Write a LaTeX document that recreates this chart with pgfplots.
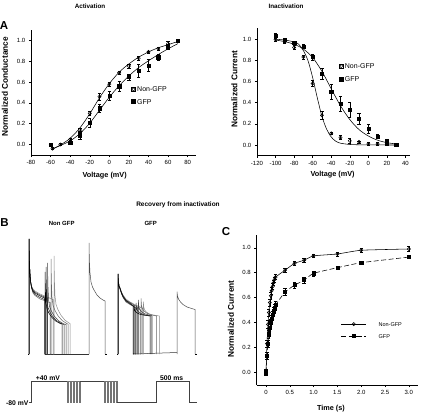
\documentclass[border=0pt]{standalone}
\usepackage{pgfplots}
\usepackage{pgfplotstable}
\pgfplotsset{compat=1.18}
\usepackage{fontspec}
\setmainfont{Liberation Sans}

\pgfplotstableread{
x y e
-58 -0.04 0.01
-50 0.0 0.01
-40 0.05 0.012
-30 0.14 0.02
-20 0.30 0.02
-10 0.46 0.03
0 0.58 0.02
10 0.69 0.015
20 0.755 0.02
30 0.83 0.02
40 0.89 0.01
50 0.92 0.015
60 0.97 0.02
}\actnon
\pgfplotstableread{
x y e
-60 0.0 0.0
-40 0.02 0.02
-30 0.09 0.035
-20 0.21 0.04
-10 0.35 0.04
0 0.47 0.04
10 0.56 0.05
20 0.65 0.03
30 0.71 0.06
40 0.76 0.06
50 0.84 0.03
60 0.94 0.02
70 1.0 0.0
}\actgfp
\pgfplotstableread{
x y e
-100 0.995 0.02
-90 0.98 0.02
-80 0.92 0.02
-70 0.83 0.02
-60 0.58 0.03
-50 0.28 0.04
-40 0.11 0.01
-30 0.07 0.02
-20 0.04 0.02
-10 0.03 0.01
0 0.01 0.015
10 0.01 0.015
20 0.01 0.01
}\inanon
\pgfplotstableread{
x y e
-100 1.03 0.02
-90 0.99 0.02
-80 0.965 0.015
-70 0.93 0.02
-60 0.83 0.03
-50 0.67 0.05
-40 0.50 0.07
-30 0.39 0.07
-20 0.33 0.07
-10 0.25 0.05
0 0.155 0.04
10 0.08 0.02
20 0.03 0.02
30 0.0 0.0
}\inagfp
\pgfplotstableread{
x y e
0 0.0 0.02
0.02 0.23 0.03
0.04 0.385 0.03
0.06 0.48 0.03
0.08 0.56 0.03
0.10 0.615 0.03
0.12 0.655 0.025
0.14 0.69 0.025
0.16 0.72 0.02
0.18 0.745 0.02
0.2 0.765 0.02
0.4 0.82 0.015
0.6 0.875 0.015
0.8 0.90 0.015
1.0 0.935 0.015
1.5 0.95 0.015
2.0 0.98 0.02
3.0 0.99 0.02
}\recnon
\pgfplotstableread{
x y e
0 0.0 0.025
0.02 0.135 0.03
0.04 0.23 0.03
0.06 0.305 0.03
0.08 0.36 0.03
0.10 0.40 0.03
0.12 0.43 0.03
0.14 0.46 0.03
0.16 0.49 0.03
0.18 0.515 0.03
0.2 0.54 0.03
0.4 0.645 0.03
0.6 0.70 0.025
0.8 0.74 0.025
1.0 0.795 0.02
1.5 0.84 0.015
2.0 0.88 0.015
3.0 0.925 0.01
}\recgfp

\pgfplotsset{
  panel/.style={
    scale only axis, clip=false,
    axis x line*=bottom, axis y line*=left,
    tick align=outside, major tick length=2.2pt,
    axis line style={line width=0.5pt},
    every tick/.style={black, line width=0.5pt},
    tick label style={font=\fontsize{6}{7}\selectfont},
    /pgf/number format/assume math mode=true,
    yticklabel style={/pgf/number format/.cd, fixed, fixed zerofill, precision=1},
    xlabel style={font=\bfseries\fontsize{7.3}{8}\selectfont, anchor=center},
    ylabel style={font=\bfseries\fontsize{8.3}{9}\selectfont, anchor=center},
    ytick={0,0.2,0.4,0.6,0.8,1.0},
    ymin=-0.1, ymax=1.1,
  },
  ebar/.style={forget plot, draw=none, mark=none, error bars/.cd, y dir=both, y explicit,
    error bar style={line width=0.5pt, draw=black, solid},
    error mark options={rotate=90, mark size=1.6pt, line width=0.5pt, draw=black, solid}},
  marklegend/.style={
    legend image code/.code={\path (-2pt,-2pt) rectangle (2pt,2pt); \draw[##1] plot coordinates {(0pt,0pt)};},
    legend style={draw=none, fill=none, inner sep=0pt, outer sep=0pt,
      nodes={inner sep=0.5pt, text depth=0pt},
      font=\fontsize{7}{8}\selectfont, anchor=west,
      /tikz/every odd column/.append style={column sep=1pt}},
    legend cell align=left,
  },
}

\begin{document}
\begin{tikzpicture}[x=1pt,y=1pt]
\useasboundingbox (0,0) rectangle (422,413);

% ---------- texts
\node[font=\bfseries\fontsize{6.3}{7}\selectfont] at (90,407) {Activation};
\node[font=\bfseries\fontsize{6.3}{7}\selectfont] at (286,407) {Inactivation};
\node[font=\bfseries\fontsize{11.5}{12}\selectfont] at (4,387) {A};
\node[font=\bfseries\fontsize{6.5}{7}\selectfont] at (178,208) {Recovery from inactivation};
\node[font=\bfseries\fontsize{11.5}{12}\selectfont] at (4.5,190) {B};
\node[font=\bfseries\fontsize{6}{7}\selectfont] at (61.7,190) {Non GFP};
\node[font=\bfseries\fontsize{6}{7}\selectfont] at (150.7,190) {GFP};
\node[font=\bfseries\fontsize{11.5}{12}\selectfont] at (226,181) {C};
\node[font=\bfseries\fontsize{6.8}{7}\selectfont] at (17.2,10.3) {-80 mV};
\node[font=\bfseries\fontsize{6.8}{7}\selectfont] at (48,34.7) {+40 mV};
\node[font=\bfseries\fontsize{6.8}{7}\selectfont] at (171.7,34.7) {500 ms};

% ---------- A: activation
\begin{axis}[panel, at={(31pt,258.1pt)}, anchor=south west,
  width=164.5pt, height=124.8pt,
  xmin=-80, xmax=88, xtick={-80,-60,...,80},
  xlabel={Voltage (mV)}, ylabel={Normalized Conductance},
  xlabel style={at={(axis description cs:0.448,-0.163)}},
  ylabel style={at={(axis description cs:-0.158,0.546)}},
  marklegend, legend style={at={(axis cs:22.45,0.471)}, /tikz/row sep=6.4pt},
]
\addplot[smooth, line width=0.55pt, forget plot] coordinates {(-58,-0.045)(-50,-0.005)(-40,0.06)(-30,0.16)(-20,0.295)(-10,0.45)(0,0.585)(10,0.695)(20,0.775)(30,0.84)(40,0.89)(50,0.93)(60,0.96)(70,0.99)};
\addplot[smooth, line width=0.55pt, forget plot] coordinates {(-58,-0.04)(-50,-0.01)(-40,0.035)(-30,0.105)(-20,0.205)(-10,0.33)(0,0.455)(10,0.565)(20,0.66)(30,0.74)(40,0.805)(50,0.865)(60,0.92)(70,0.97)};
\addplot[ebar] table[x=x, y=y, y error=e] {\actnon};
\addplot[ebar] table[x=x, y=y, y error=e] {\actgfp};
\addplot[only marks, mark=o, mark size=1.6pt, mark options={fill=white, line width=0.5pt}]
  table[x=x, y=y] {\actnon};
\addplot[only marks, mark=square*, mark size=1.6pt]
  table[x=x, y=y] {\actgfp};
\legend{Non-GFP, GFP}
\end{axis}

% ---------- A: inactivation
\begin{axis}[panel, at={(257pt,257.4pt)}, anchor=south west,
  width=153.1pt, height=127.2pt,
  xmin=-120, xmax=45, xtick={-120,-100,...,40},
  xlabel={Voltage (mV)}, ylabel={Normalized Current},
  xlabel style={at={(axis description cs:0.494,-0.153)}},
  ylabel style={at={(axis description cs:-0.148,0.522)}},
  marklegend, legend style={at={(axis cs:-31.6,0.6825)}, /tikz/row sep=7.3pt},
]
\addplot[smooth, line width=0.55pt, forget plot] coordinates {(-100,0.998)(-90,0.99)(-80,0.972)(-75,0.95)(-70,0.89)(-65,0.795)(-60,0.635)(-55,0.445)(-50,0.27)(-45,0.15)(-40,0.075)(-35,0.035)(-30,0.017)(-20,0.005)(-10,0.002)(0,0.001)(30,0)};
\addplot[smooth, line width=0.55pt, forget plot] coordinates {(-100,0.99)(-90,0.975)(-80,0.95)(-70,0.905)(-60,0.825)(-50,0.695)(-40,0.53)(-30,0.37)(-20,0.24)(-10,0.145)(0,0.085)(10,0.045)(20,0.022)(30,0.01)};
\addplot[ebar] table[x=x, y=y, y error=e] {\inanon};
\addplot[ebar] table[x=x, y=y, y error=e] {\inagfp};
\addplot[only marks, mark=o, mark size=1.6pt, mark options={fill=white, line width=0.5pt}]
  table[x=x, y=y] {\inanon};
\addplot[only marks, mark=square*, mark size=1.6pt]
  table[x=x, y=y] {\inagfp};
\legend{Non-GFP, GFP}
\end{axis}

% ---------- C: recovery
\begin{axis}[panel, at={(256.5pt,28.2pt)}, anchor=south west,
  width=161.8pt, height=149.5pt,
  xmin=-0.2, xmax=3.2, xtick={0,0.5,1,1.5,2,2.5,3},
  xticklabels={0,0.5,1.0,1.5,2.0,2.5,3.0},
  xlabel={Time (s)}, ylabel={Normalized Current},
  xlabel style={at={(axis description cs:0.46,-0.157)}},
  ylabel style={at={(axis description cs:-0.158,0.44)}},
  legend image code/.code={\draw[mark repeat=2, mark phase=2, #1] plot coordinates {(0pt,0pt)(12.5pt,0pt)(25pt,0pt)};},
  legend style={draw=none, fill=none, inner sep=0pt, outer sep=0pt,
      nodes={inner sep=0.5pt, text depth=0pt},
      font=\fontsize{5.5}{6}\selectfont, anchor=west,
      at={(axis cs:1.577,0.339)},
      /tikz/row sep=7.1pt,
      /tikz/every odd column/.append style={column sep=11.5pt}},
  legend cell align=left,
]
\addplot[ebar] table[x=x, y=y, y error=e] {\recnon};
\addplot[ebar] table[x=x, y=y, y error=e] {\recgfp};
\addplot[black, line width=0.55pt, smooth, tension=0.3, mark=o, mark size=1.6pt, mark options={fill=white, solid}]
  table[x=x, y=y] {\recnon};
\addplot[black, line width=0.55pt, dash pattern=on 5pt off 2.5pt, smooth, tension=0.3, mark=square*, mark size=1.6pt, mark options={solid}]
  table[x=x, y=y] {\recgfp};
\legend{Non-GFP, GFP}
\end{axis}

% ---------- B: traces and protocol (pixel frame)
\begin{axis}[scale only axis, hide axis, at={(0pt,0pt)}, anchor=south west,
  width=422pt, height=413pt, xmin=0, xmax=422, ymin=0, ymax=413,
  every axis plot/.append style={line width=0.5pt, mark=none}]
% Non GFP baseline
\addplot[black] coordinates {(28,59)(29,59)};
\addplot[black!80] coordinates {(44.5,59)(89,59)};
\addplot[black] coordinates {(105,59)(107,59)};
% Non GFP sweeps
\addplot[black!45] coordinates {(29,59)(29,174)(29.4,155)(29.8,142)(30.5,132)(31.5,127)(33,124)(35,122)(40,119)(53,113.5)(53,59)(54,59)(54,157)(54.4,132.9)(55,117)(56,108.7)(58,103.2)(61,97.7)(65,92.8)(70,89.4)(70,59)};
\addplot[black!60] coordinates {(29,59)(29,174)(29.4,155)(29.8,142)(30.5,132)(31.5,125)(33,120)(35,117.5)(40,114)(50,110.5)(50,59)(51,59)(51,154)(51.4,130.9)(52,115.7)(53,107.8)(55,102.5)(58,97.2)(62,92.6)(67,89.3)(68,89)(68,59)};
\addplot[black!75] coordinates {(29,59)(29,174)(29.4,155)(29.8,142)(30.5,132)(31.5,126.5)(33,123)(35,121)(40,118)(47,115)(47,59)(47.5,59)(47.5,150)(47.9,128.3)(48.5,114)(49.5,106.6)(51.5,101.6)(54.5,96.7)(58.5,92.3)(63.5,89.2)(66,88.5)(66,59)};
\addplot[black!85] coordinates {(29,59)(29,174)(29.4,155)(29.8,142)(30.5,132)(31.5,125.5)(33,121)(35,118.5)(40,115.5)(45.5,113)(45.5,59)(46,59)(46,146)(46.4,125.7)(47,112.4)(48,105.4)(50,100.8)(53,96.1)(57,92.1)(62,89.2)(64,88.6)(64,59)};
\addplot[black] coordinates {(29,59)(29,174)(29.4,155)(29.8,142)(30.5,132)(31.5,126)(33,122)(35,120)(40,117)(44.5,115)(44.5,59)(45,59)(45,141)(45.4,122.5)(46,110.3)(47,103.9)(49,99.7)(52,95.4)(56,91.7)(61,89.1)(62,89)(62,59)};
\addplot[black!70] coordinates {(89,59)(89,170)(89.4,152)(90,140)(91,131)(92.5,126)(94,123)(97,118)(100,115)(103,113)(105,112)(105,59)};
% GFP baseline
\addplot[black] coordinates {(117,59)(118,59)};
\addplot[black!80] coordinates {(133,59)(177,60.5)};
\addplot[black] coordinates {(195,59)(197,59)};
% GFP sweeps
\addplot[black!45] coordinates {(118,59)(118,139)(118.4,132)(119,127)(120,125.5)(121.5,121)(123.3,117.5)(126,114)(130,111)(142.7,104.5)(142.7,59)(143.3,59)(143.3,111.3)(143.8,105.6)(144.8,102.7)(146.3,101)(149.3,99.1)(153.3,98)(159.3,97)(159.3,59)};
\addplot[black!60] coordinates {(118,59)(118,139)(118.4,132)(119,127)(120,124)(121.5,119)(123.3,115)(126,111)(130,108.5)(140,103.5)(140,59)(141,59)(141,114.7)(141.5,107.6)(142.5,104.1)(144,102)(147,99.7)(151,98.2)(156.7,97)(156.7,59)};
\addplot[black!75] coordinates {(118,59)(118,139)(118.4,132)(119,127)(120,125)(121.5,120.5)(123.3,117)(126,113)(130,110.5)(137.5,106)(137.5,59)(138.3,59)(138.3,113)(138.8,106.6)(139.8,103.4)(141.3,101.5)(144.3,99.4)(148.3,98.1)(152,97.3)(152,59)};
\addplot[black!85] coordinates {(118,59)(118,139)(118.4,132)(119,127)(120,124.2)(121.5,119.5)(123.3,115.5)(126,111.8)(130,109)(135,105.5)(135,59)(136,59)(136,110)(136.5,104.8)(137.5,102.2)(139,100.6)(142,99)(146,97.9)(151,97)(151,59)};
\addplot[black] coordinates {(118,59)(118,139)(118.4,132)(119,127)(120,124.7)(121.5,120)(123.3,116.3)(126,112.5)(130,109.7)(133,107.5)(133,59)(134,59)(134,108)(134.5,103.6)(135.5,101.4)(137,100.1)(140,98.7)(144,97.8)(150,97)(150,59)};
\addplot[black!70] coordinates {(177,59)(177,121.3)(177.5,117)(178.5,114)(180.5,111)(183,108.5)(187,106)(191,104.7)(195,103.5)(195,59)};
% protocol
\addplot[black!75] coordinates {(29,10.3)(31,10.3)(31,32)(67,32)};
\addplot[black!55] coordinates {(67,32)(67,10.3)(68.5,10.3)(68.5,32)(70,32)(70,10.3)(71.5,10.3)(71.5,32)(73,32)(73,10.3)(74.5,10.3)(74.5,32)(76,32)(76,10.3)(77.5,10.3)(77.5,32)(79,32)(79,10.3)(80,10.3)(80,32)};
\addplot[black!75] coordinates {(80,32)(104,32)};
\addplot[black!55] coordinates {(104,32)(104,10.3)(105.5,10.3)(105.5,32)(107,32)(107,10.3)(108.5,10.3)(108.5,32)(110,32)(110,10.3)(111.5,10.3)(111.5,32)(113,32)(113,10.3)(114.5,10.3)(114.5,32)(116,32)(116,10.3)(117,10.3)(117,32)};
\addplot[black!75] coordinates {(117,10.3)(156,10.3)(156,32)(189,32)(189,10.3)(197,10.3)};
\end{axis}
\end{tikzpicture}
\end{document}
